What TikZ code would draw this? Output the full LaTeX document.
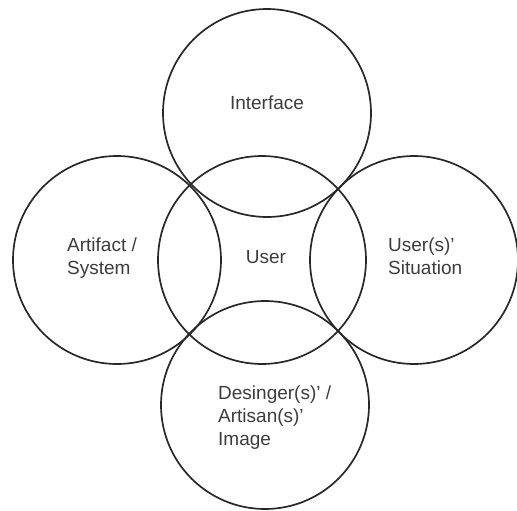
\documentclass[tikz,border=0pt]{standalone}
\usepackage{fontspec}
\setmainfont{Liberation Sans}
\begin{document}
\begin{tikzpicture}[x=1pt,y=-1pt,
  ring/.style={circle, draw={rgb,255:red,40;green,40;blue,40}, line width=1.7pt, minimum size=208pt, inner sep=0pt},
  lbl/.style={font=\fontsize{19}{23}\selectfont, text={rgb,255:red,60;green,60;blue,60}, align=left, inner sep=0pt}]%
\useasboundingbox (0,0) rectangle (517,511);%
\node[ring] (user) at (262,260) {};%
\node[ring] (interface) at (267,113) {};%
\node[ring] (artifact) at (117,260) {};%
\node[ring] (situation) at (414,260) {};%
\node[ring] (image) at (265,405) {};%
\node[lbl] (interfacetext) at (267,103) {Interface};%
\node[lbl] (usertext) at (266,257) {User};%
\node[lbl, anchor=west] (artifacttext) at (67,258) {Artifact /\\System};%
\node[lbl, anchor=west] (situationtext) at (388,256) {User(s)'\\Situation};%
\node[lbl, anchor=west] (imagetext) at (218,418) {Desinger(s)' /\\Artisan(s)'\\Image};%
\end{tikzpicture}
\end{document}
